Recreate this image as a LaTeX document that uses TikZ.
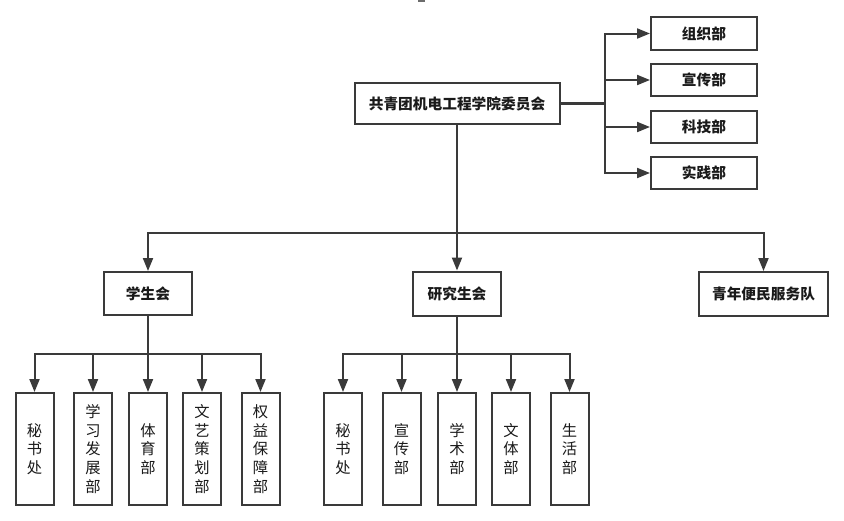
\documentclass[tikz,border=0pt]{standalone}
\usepackage{fontspec}
\newfontfamily\cjk{Noto Sans CJK SC}
\usetikzlibrary{arrows.meta}
\definecolor{ln}{HTML}{3A3A3A}
\definecolor{tx}{HTML}{1A1A1A}
\tikzset{
  box/.style={draw=ln, line width=2pt, fill=white, inner sep=0pt, text=tx},
  hbox/.style={box, font=\cjk\bfseries\fontsize{14.7}{17}\selectfont},
  vbox/.style={box, minimum width=38pt, minimum height=112pt, align=center,
     font=\cjk\fontsize{15.3}{18.6}\selectfont},
  con/.style={draw=ln, line width=2pt},
  arr/.style={con, -{Triangle[length=13pt,width=10pt]}}
}
\begin{document}
\begin{tikzpicture}[x=1pt,y=-1pt]
\useasboundingbox (0,0) rectangle (844,520);
\fill[white] (0,0) rectangle (844,520);
\fill[gray!85!black] (417.5,0) rectangle (425,2);
% top
\node[hbox, minimum width=205pt, minimum height=41pt] (top) at (457,103.5) {共青团机电工程学院委员会};
\node[hbox, minimum width=106pt, minimum height=33pt] (r1) at (704,33.5) {组织部};
\node[hbox, minimum width=106pt, minimum height=32pt] (r2) at (704,80) {宣传部};
\node[hbox, minimum width=106pt, minimum height=32pt] (r3) at (704,127) {科技部};
\node[hbox, minimum width=106pt, minimum height=32pt] (r4) at (704,173) {实践部};
\coordinate (bus) at (605,103.5);
\draw[con, line width=2.6pt] (top.east) -- (bus);
\draw[arr] (bus) |- (r1.west);
\draw[arr] (bus) |- (r2.west);
\draw[arr] (bus) |- (r3.west);
\draw[arr] (bus) |- (r4.west);
% level 2
\node[hbox, minimum width=88pt, minimum height=43pt] (xsh) at (148,293.5) {学生会};
\node[hbox, minimum width=88pt, minimum height=44pt] (yjs) at (457,293.5) {研究生会};
\node[hbox, minimum width=129pt, minimum height=44pt] (qn) at (763.5,294) {青年便民服务队};
\coordinate (h1) at (457,233);
\draw[con] (top.south) -- (h1);
\draw[arr] (h1) -| (xsh.north);
\draw[arr] (h1) -| (qn.north);
\draw[arr] (h1) -- (yjs.north);
% student union
\node[vbox] (a1) at (34.5,449) {秘\\书\\处};
\node[vbox] (a2) at (93,449) {学\\习\\发\\展\\部};
\node[vbox] (a3) at (148,449) {体\\育\\部};
\node[vbox] (a4) at (202,449) {文\\艺\\策\\划\\部};
\node[vbox] (a5) at (260.5,449) {权\\益\\保\\障\\部};
\coordinate (h2) at (148,354);
\draw[con] (xsh.south) -- (h2);
\foreach \n in {a1,a2,a4,a5} \draw[arr] (h2) -| (\n.north);
\draw[arr] (h2) -- (a3.north);
% graduate union
\node[vbox] (b1) at (343,449) {秘\\书\\处};
\node[vbox] (b2) at (401.5,449) {宣\\传\\部};
\node[vbox] (b3) at (457,449) {学\\术\\部};
\node[vbox] (b4) at (511,449) {文\\体\\部};
\node[vbox] (b5) at (569.5,449) {生\\活\\部};
\coordinate (h3) at (457,354);
\draw[con] (yjs.south) -- (h3);
\foreach \n in {b1,b2,b4,b5} \draw[arr] (h3) -| (\n.north);
\draw[arr] (h3) -- (b3.north);
\end{tikzpicture}
\end{document}
